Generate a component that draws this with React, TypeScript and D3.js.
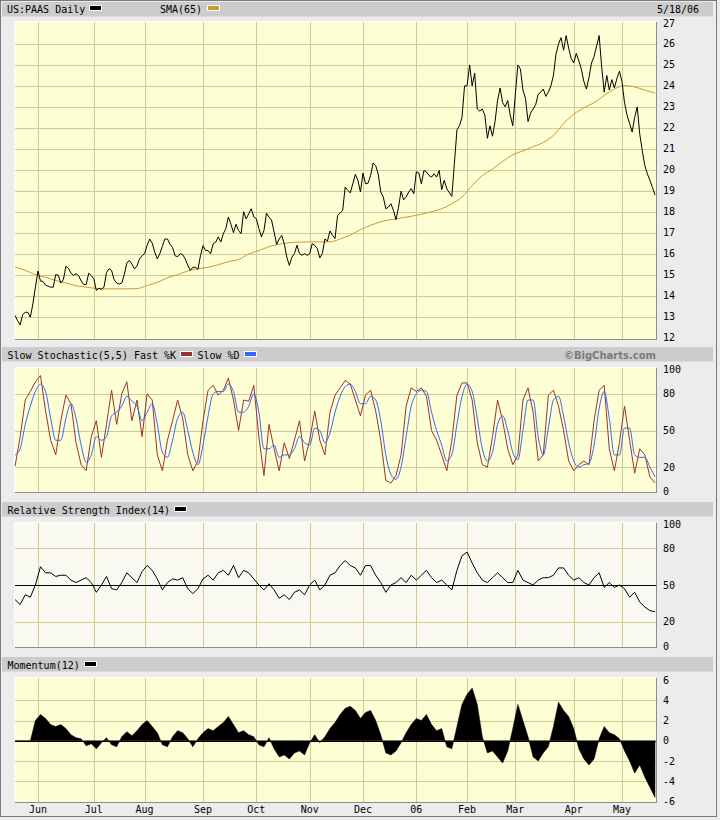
import React from "react";
import * as d3 from "d3";

// ---------- data ----------
const monthLabels = ["Jun", "Jul", "Aug", "Sep", "Oct", "Nov", "Dec", "06", "Feb", "Mar", "Apr", "May"];
const monthStartIdx = [9, 31, 51, 74, 95, 116, 137, 158, 178, 197, 220, 239];

const priceClose = [
  13.05, 12.8, 12.6, 13.1, 13.2, 13.2, 12.97, 13.6, 14.4, 15.17,
  14.7, 14.67, 14.5, 14.45, 14.4, 14.4, 15.0, 14.97, 14.6, 14.75,
  15.4, 15.3, 15.07, 14.96, 15.04, 14.95, 14.7, 14.53, 14.53, 15.07,
  14.95, 14.8, 14.24, 14.35, 14.3, 14.4, 15.1, 15.28, 15.2, 14.75,
  14.6, 14.55, 14.6, 15.0, 15.55, 15.68, 15.5, 15.28, 15.4, 15.75,
  15.9, 16.0, 16.4, 16.7, 16.5, 16.07, 15.75, 16.0, 16.35, 16.7,
  16.7, 16.45, 16.3, 15.9, 15.85, 16.0, 15.95, 15.75, 15.44, 15.2,
  15.35, 15.35, 15.25, 15.9, 16.38, 16.15, 16.15, 16.0, 16.47, 16.55,
  16.8, 16.55, 16.95, 17.2, 17.75, 17.4, 17.0, 17.4, 17.1, 16.95,
  18.0, 17.66, 17.9, 18.14, 17.75, 17.66, 17.2, 16.8, 17.1, 17.93,
  17.74, 17.6, 17.03, 16.44, 16.7, 16.87, 16.47, 15.83, 15.44, 15.83,
  16.0, 16.4, 16.0, 15.92, 16.0, 15.92, 16.0, 16.47, 16.4, 16.24,
  15.8, 16.0, 16.7, 16.6, 17.08, 16.87, 16.72, 17.82, 17.93, 18.06,
  19.18, 19.02, 18.9, 19.33, 19.78, 19.5, 18.94, 19.84, 19.33, 19.36,
  19.73, 20.32, 20.2, 19.8, 18.94, 18.7, 18.14, 18.22, 18.38, 18.06,
  17.62, 18.22, 18.98, 18.57, 18.7, 18.94, 19.1, 18.86, 19.9, 19.85,
  19.33, 19.97, 19.9, 19.73, 19.65, 19.81, 19.65, 19.97, 19.05, 19.5,
  19.1, 18.9, 18.73, 20.3, 21.9, 22.1, 22.5, 24.0, 24.0, 25.0,
  24.0, 24.6, 22.9, 22.8, 22.9, 22.6, 21.5, 22.1, 21.6, 22.3,
  23.3, 23.9, 23.2, 23.0, 23.3, 22.6, 22.1, 23.6, 25.0, 24.8,
  23.8, 23.4, 22.3, 22.7, 22.9, 23.1, 23.6, 23.7, 23.85, 23.5,
  23.7, 24.0, 24.5, 25.5, 26.0, 26.3, 25.7, 26.4, 25.8, 25.3,
  25.1, 25.55, 25.2, 24.8, 24.2, 23.85, 24.4, 25.1, 25.4, 25.9,
  26.4, 24.9, 23.7, 24.5, 23.8, 24.3, 23.9, 24.35, 24.7, 24.2,
  23.2, 22.6, 22.2, 21.8, 22.5, 23.0, 21.7, 20.9, 20.2, 19.8,
  19.5, 19.15, 18.8,
];

// SMA(65), one reading every 4 trading days
const sma65 = [
  15.36, 15.2, 15.0, 14.87, 14.72, 14.6, 14.47, 14.4, 14.34, 14.32,
  14.32, 14.32, 14.33, 14.48, 14.63, 14.85, 15.0, 15.17, 15.28, 15.35,
  15.47, 15.62, 15.72, 15.98, 16.15, 16.33, 16.45, 16.52, 16.55, 16.56,
  16.56, 16.56, 16.7, 16.88, 17.14, 17.35, 17.52, 17.62, 17.7, 17.78,
  17.88, 18.0, 18.14, 18.38, 18.7, 19.25, 19.72, 20.03, 20.4, 20.72,
  20.9, 21.1, 21.3, 21.64, 22.2, 22.65, 22.95, 23.2, 23.55, 23.85,
  24.02, 23.95, 23.8, 23.66,
];

// oscillators, one reading every 2 trading days
const stochK = [
  21, 45, 75, 82, 90, 95, 66, 42, 30, 58, 79, 72, 40, 22, 17, 45, 58, 28, 55, 83,
  55, 80, 90, 58, 75, 45, 80, 75, 30, 17, 42, 58, 75, 60, 30, 17, 25, 58, 83, 87,
  79, 83, 93, 75, 50, 75, 74, 87, 45, 13, 55, 35, 17, 40, 27, 42, 58, 25, 42, 66,
  42, 30, 65, 79, 85, 91, 88, 75, 62, 79, 83, 66, 42, 9, 7, 13, 30, 70, 85, 82,
  85, 78, 50, 42, 30, 17, 42, 79, 89, 89, 75, 40, 22, 20, 45, 75, 58, 35, 22, 30,
  75, 85, 65, 25, 30, 79, 83, 70, 50, 25, 17, 22, 25, 22, 58, 83, 87, 35, 17, 40,
  70, 42, 15, 35, 30, 12, 7,
];
const stochD = [
  30, 35, 55, 70, 82, 88, 82, 60, 42, 42, 60, 72, 60, 38, 24, 30, 45, 42, 45, 62,
  65, 70, 78, 74, 70, 58, 65, 72, 55, 32, 28, 42, 60, 65, 50, 32, 22, 38, 62, 80,
  82, 82, 88, 82, 65, 65, 70, 80, 65, 35, 35, 38, 28, 30, 30, 35, 45, 40, 38, 52,
  50, 40, 48, 65, 78, 86, 88, 82, 72, 72, 78, 75, 58, 30, 14, 10, 20, 45, 70, 80,
  83, 82, 65, 50, 38, 25, 30, 55, 78, 88, 82, 60, 35, 25, 32, 55, 62, 50, 32, 26,
  50, 75, 75, 45, 30, 52, 75, 78, 62, 40, 25, 20, 22, 23, 38, 68, 82, 60, 30, 30,
  52, 52, 30, 28, 28, 20, 12,
];
const rsi14 = [
  38, 34, 42, 40, 50, 65, 60, 60, 57, 58, 58, 54, 52, 54, 56, 52, 44, 50, 57, 47,
  46, 52, 60, 56, 52, 61, 66, 62, 55, 46, 52, 55, 54, 56, 47, 43, 47, 55, 58, 54,
  60, 62, 58, 66, 56, 62, 60, 55, 50, 46, 51, 46, 39, 42, 38, 44, 46, 42, 50, 54,
  46, 50, 58, 60, 66, 70, 66, 64, 58, 66, 66, 58, 52, 44, 50, 52, 56, 52, 58, 54,
  58, 62, 56, 52, 54, 50, 46, 62, 74, 77, 68, 60, 54, 52, 56, 60, 56, 52, 52, 62,
  54, 52, 50, 54, 56, 56, 58, 64, 64, 58, 54, 56, 52, 50, 56, 60, 48, 52, 48, 50,
  47, 40, 44, 36, 32, 29, 28,
];
const momentum12 = [
  0, 0, 0, 0, 2.0, 2.6, 2.2, 1.6, 1.4, 1.6, 1.2, 0.6, 0.3, 0.2, -0.5, -0.3, -0.8, -0.2, 0.3, -0.4,
  -0.6, 0.4, 0.9, 0.5, 1.0, 1.6, 2.0, 1.4, 0.8, -0.4, -0.6, 0.4, 1.0, 0.8, 0.2, -0.6, 0.2, 0.8, 1.2, 1.0,
  1.4, 1.8, 2.4, 1.6, 0.8, 1.0, 0.6, 0.4, -0.4, -0.6, 0.3, -0.8, -1.6, -1.4, -1.8, -1.2, -1.0, -1.4, -0.2, 0.6,
  -0.2, 0.4, 1.2, 1.8, 2.6, 3.2, 3.4, 3.0, 2.2, 2.8, 3.0, 2.0, 0.6, -1.2, -1.4, -1.0, -0.2, 0.8, 1.6, 2.2,
  2.0, 2.6, 1.6, 1.0, 1.2, -0.6, -0.8, 1.4, 3.6, 4.6, 5.2, 3.6, 0.4, -1.2, -1.0, -1.6, -2.2, -1.0, 1.2, 3.6,
  2.0, 0.4, -1.6, -2.0, -1.2, -0.6, 1.4, 3.8, 3.0, 2.4, 1.2, -0.8, -1.8, -2.4, -1.8, 0.2, 1.4, 0.8, 0.6, 0.2,
  -1.0, -2.0, -3.2, -2.4, -3.6, -4.6, -5.6,
];

const priceTicks = [12, 13, 14, 15, 16, 17, 18, 19, 20, 21, 22, 23, 24, 25, 26, 27];
const oscTicks = [0, 20, 50, 80, 100];
const momTicks = [-6, -4, -2, 0, 2, 4, 6];

// ---------- styling ----------
const FONT = "'DejaVu Sans Mono', monospace";
const BG = "#ececec";
const BAND = "#cccccc";
const PLOT_BG = "#fefed4";
const RSI_BG = "#f9f9f2";
const GRID = "#cfcb92";
const SMA_C = "#cc9933";
const K_C = "#993333";
const D_C = "#3366ff";

const PL = 15, PR = 656;

function Frame({ top, bottom, fill }: { top: number; bottom: number; fill: string }) {
  return (
    <g shapeRendering="crispEdges">
      <rect x={PL} y={top} width={PR - PL} height={bottom - top} fill={fill} />
      <line x1={PL - 0.5} x2={PR} y1={top - 0.5} y2={top - 0.5} stroke="#ffffff" />
      <line x1={PL - 0.5} x2={PL - 0.5} y1={top - 0.5} y2={bottom} stroke="#ffffff" />
      <line x1={PL} x2={PR + 0.5} y1={bottom + 0.5} y2={bottom + 0.5} stroke="#8c8c8c" />
      <line x1={PR + 0.5} x2={PR + 0.5} y1={top} y2={bottom + 0.5} stroke="#8c8c8c" />
    </g>
  );
}

function Band({ y, children }: { y: number; children?: React.ReactNode }) {
  return (
    <g>
      <rect x={2} y={y} width={711} height={14.5} fill={BAND} />
      {children}
    </g>
  );
}

function Swatch({ x, y, color }: { x: number; y: number; color: string }) {
  return (
    <g shapeRendering="crispEdges">
      <rect x={x} y={y} width={13} height={6} fill="#ffffff" />
      <rect x={x + 1} y={y + 1} width={11} height={4} fill={color} />
    </g>
  );
}

export default function App() {
  const xDay = d3.scaleLinear().domain([0, 252]).range([15.1, 655]);

  const yPrice = d3.scaleLinear().domain([12, 27]).range([337.5, 23]);
  const yStoch = d3.scaleLinear().domain([0, 100]).range([491.5, 369.5]);
  const yRsi = d3.scaleLinear().domain([0, 100]).range([646, 524]);
  const yMom = d3.scaleLinear().domain([-6, 6]).range([801.5, 680]);

  const priceLine = d3.line<number>().x((_, i) => xDay(i)).y((d) => yPrice(d))(priceClose) || "";
  const smaLine =
    d3.line<number>().x((_, i) => xDay(i * 4)).y((d) => yPrice(d)).curve(d3.curveMonotoneX)(sma65) || "";
  const kLine = d3.line<number>().x((_, i) => xDay(i * 2)).y((d) => yStoch(d))(stochK) || "";
  const dLine =
    d3.line<number>().x((_, i) => xDay(i * 2)).y((d) => yStoch(d)).curve(d3.curveMonotoneX)(stochD) || "";
  const rsiLine = d3.line<number>().x((_, i) => xDay(i * 2)).y((d) => yRsi(d))(rsi14) || "";
  const momArea =
    d3
      .area<number>()
      .x((_, i) => xDay(i * 2))
      .y0(yMom(0))
      .y1((d) => yMom(d))(momentum12) || "";

  const vGrid = (top: number, bottom: number) =>
    monthStartIdx.map((m, i) => (
      <line
        key={"v" + i}
        x1={Math.round(xDay(m)) + 0.5}
        x2={Math.round(xDay(m)) + 0.5}
        y1={top}
        y2={bottom}
        stroke={GRID}
      />
    ));
  const hGrid = (vals: number[], sc: d3.ScaleLinear<number, number>, key: string) =>
    vals.map((v, i) => (
      <line
        key={key + i}
        x1={PL}
        x2={PR}
        y1={Math.round(sc(v)) + 0.5}
        y2={Math.round(sc(v)) + 0.5}
        stroke={GRID}
      />
    ));
  const yLabels = (vals: number[], sc: d3.ScaleLinear<number, number>, key: string) =>
    vals.map((v, i) => (
      <text key={key + i} x={663} y={sc(v) + 3.5} fontSize={10} fontFamily={FONT} fill="#000">
        {v}
      </text>
    ));

  return (
    <div style={{ position: "absolute", left: 0, top: 0, width: 720, height: 820 }}>
      <svg width={720} height={820} style={{ display: "block" }}>
        <rect x={0} y={0} width={720} height={820} fill={BG} />
        <rect x={0.5} y={0.5} width={716} height={816} fill="none" stroke="#7a7a7a" />

        {/* price panel */}
        <Band y={2}>
          <text x={7} y={12.5} fontSize={10} fontFamily={FONT}>US:PAAS Daily</text>
          <Swatch x={89} y={5} color="#000000" />
          <text x={160} y={12.5} fontSize={10} fontFamily={FONT}>SMA(65)</text>
          <Swatch x={207} y={5} color={SMA_C} />
          <text x={657} y={12.5} fontSize={10} fontFamily={FONT}>5/18/06</text>
        </Band>
        <Frame top={22} bottom={339} fill={PLOT_BG} />
        <g shapeRendering="crispEdges">
          {hGrid(priceTicks.slice(1, -1), yPrice, "ph")}
          {vGrid(22, 339)}
        </g>
        <path d={smaLine} fill="none" stroke={SMA_C} strokeWidth={1} />
        <path d={priceLine} fill="none" stroke="#000" strokeWidth={1} />
        {yLabels(priceTicks, yPrice, "pl")}

        {/* stochastic */}
        <Band y={347}>
          <text x={7.5} y={358.5} fontSize={10} fontFamily={FONT}>Slow Stochastic(5,5) Fast %K</text>
          <Swatch x={180} y={351} color={K_C} />
          <text x={197.5} y={358.5} fontSize={10} fontFamily={FONT}>Slow %D</text>
          <Swatch x={244} y={351} color={D_C} />
          <text
            x={656}
            y={358.5}
            fontSize={10}
            fontWeight="bold"
            textAnchor="end"
            fontFamily="'DejaVu Sans', sans-serif"
            fill="#7a7a7a"
          >
            ©BigCharts.com
          </text>
        </Band>
        <Frame top={368} bottom={492} fill={PLOT_BG} />
        <g shapeRendering="crispEdges">
          {hGrid([20, 50, 80], yStoch, "sh")}
          {vGrid(368, 492)}
        </g>
        <path d={kLine} fill="none" stroke={K_C} strokeWidth={1} />
        <path d={dLine} fill="none" stroke={D_C} strokeWidth={1} />
        {yLabels(oscTicks, yStoch, "sl")}

        {/* RSI */}
        <Band y={502}>
          <text x={7.5} y={513.5} fontSize={10} fontFamily={FONT}>Relative Strength Index(14)</text>
          <Swatch x={174} y={506} color="#000000" />
        </Band>
        <Frame top={522.5} bottom={647} fill={RSI_BG} />
        <g shapeRendering="crispEdges">
          {hGrid([20, 80], yRsi, "rh")}
          {vGrid(522.5, 647)}
          <line x1={PL} x2={PR} y1={Math.round(yRsi(50)) + 0.5} y2={Math.round(yRsi(50)) + 0.5} stroke="#000" />
        </g>
        <path d={rsiLine} fill="none" stroke="#000" strokeWidth={1} />
        {yLabels(oscTicks, yRsi, "rl")}

        {/* Momentum */}
        <Band y={657}>
          <text x={7.5} y={668.5} fontSize={10} fontFamily={FONT}>Momentum(12)</text>
          <Swatch x={84} y={661} color="#000000" />
        </Band>
        <Frame top={678} bottom={802} fill={PLOT_BG} />
        <g shapeRendering="crispEdges">
          {hGrid([-4, -2, 2, 4], yMom, "mh")}
          {vGrid(678, 802)}
        </g>
        <path d={momArea} fill="#000" stroke="#000" strokeWidth={0.5} />
        <line
          x1={PL}
          x2={PR}
          y1={Math.round(yMom(0)) + 0.5}
          y2={Math.round(yMom(0)) + 0.5}
          stroke="#000"
          shapeRendering="crispEdges"
        />
        {yLabels(momTicks, yMom, "ml")}

        {/* month labels */}
        {monthStartIdx.map((m, i) => (
          <text key={"m" + i} x={xDay(m)} y={813} fontSize={10} fontFamily={FONT} textAnchor="middle">
            {monthLabels[i]}
          </text>
        ))}
      </svg>
    </div>
  );
}
